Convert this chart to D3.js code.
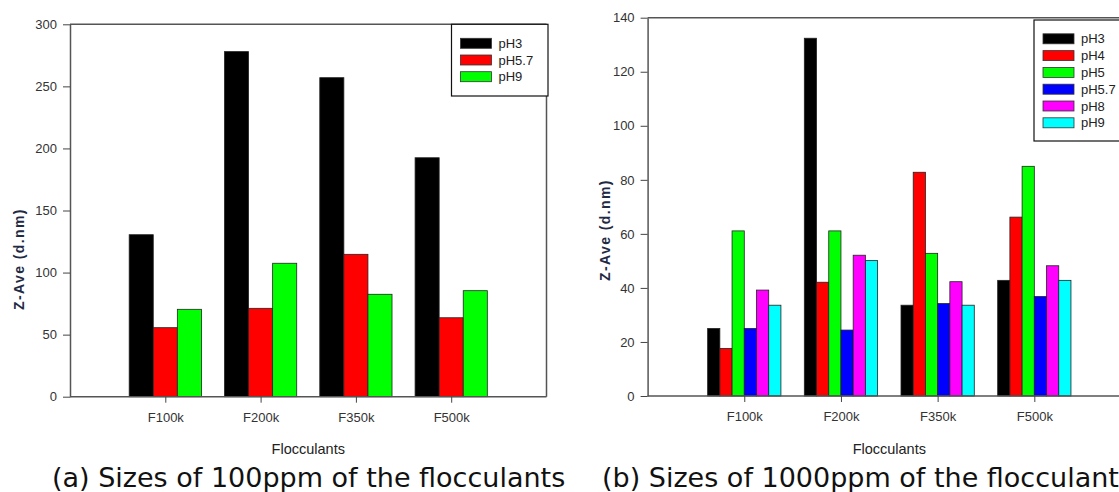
<!DOCTYPE html>
<html>
<head>
<meta charset="utf-8">
<script src="https://cdn.jsdelivr.net/npm/d3@7"></script>
<style>
  html, body { margin: 0; padding: 0; background: #fff; }
  svg { display: block; }
</style>
</head>
<body>
<svg id="fig" width="1119" height="492"></svg>
<script>
// Flocculant grades on the x axis
const categories = ["F100k", "F200k", "F350k", "F500k"];

// (a) 100 ppm: Z-average size (d.nm) per pH
const seriesA = ["pH3", "pH5.7", "pH9"];
const a_pH3  = [130.5, 278.0, 257.0, 192.5];
const a_pH57 = [55.6, 71.2, 114.7, 63.6];
const a_pH9  = [70.4, 107.5, 82.5, 85.4];

// (b) 1000 ppm: Z-average size (d.nm) per pH
const seriesB = ["pH3", "pH4", "pH5", "pH5.7", "pH8", "pH9"];
const b_pH3  = [25.0, 132.4, 33.6, 42.8];
const b_pH4  = [17.6, 42.1, 82.8, 66.2];
const b_pH5  = [61.1, 61.1, 52.8, 85.0];
const b_pH57 = [25.0, 24.4, 34.2, 36.8];
const b_pH8  = [39.2, 52.1, 42.3, 48.2];
const b_pH9  = [33.6, 50.1, 33.6, 42.8];

// Tick values
const yTicksA = [0, 50, 100, 150, 200, 250, 300];
const yTicksB = [0, 20, 40, 60, 80, 100, 120, 140];

// Series colours
const colorsA = ["#000000", "#ff0000", "#00ff00"];
const colorsB = ["#000000", "#ff0000", "#00ff00", "#0000ff", "#ff00ff", "#00ffff"];

const FONT = "Arial, 'Liberation Sans', sans-serif";
const svg = d3.select("#fig");

function panel(cfg) {
  const g = svg.append("g");
  const x = d3.scalePoint().domain(categories).range([cfg.x0, cfg.x1]).padding(1);
  const y = d3.scaleLinear().domain([0, cfg.yMax]).range([cfg.yBottom, cfg.yTop]);
  const groupW = x.step() * 0.758;
  const inner = d3.scaleBand().domain(cfg.series).range([-groupW / 2, groupW / 2]).padding(0);

  // frame (top and right edges)
  g.append("line").attr("x1", cfg.x0).attr("x2", cfg.x1).attr("y1", cfg.yTop).attr("y2", cfg.yTop)
    .attr("stroke", "#555").attr("stroke-width", 1.5);
  g.append("line").attr("x1", cfg.x1).attr("x2", cfg.x1).attr("y1", cfg.yTop).attr("y2", cfg.yBottom)
    .attr("stroke", "#555").attr("stroke-width", 1.5);

  // bars
  const rows = [];
  cfg.series.forEach((s, si) => {
    cfg.values[si].forEach((v, ci) => rows.push({ s, si, cat: categories[ci], v }));
  });
  g.append("g").selectAll("rect").data(rows).join("rect")
    .attr("x", d => x(d.cat) + inner(d.s))
    .attr("width", inner.bandwidth())
    .attr("y", d => y(d.v))
    .attr("height", d => y(0) - y(d.v))
    .attr("fill", d => cfg.colors[d.si])
    .attr("stroke", "#222")
    .attr("stroke-width", 0.8);

  // axes
  const yAxis = g.append("g").attr("transform", `translate(${cfg.x0},0)`)
    .call(d3.axisLeft(y).tickValues(cfg.yTicks).tickSize(7).tickPadding(6).tickSizeOuter(0));
  const xAxis = g.append("g").attr("transform", `translate(0,${cfg.yBottom})`)
    .call(d3.axisBottom(x).tickSize(6).tickPadding(10).tickSizeOuter(0));
  [yAxis, xAxis].forEach(ax => {
    ax.select(".domain").attr("stroke", "#555").attr("stroke-width", 1.5);
    ax.selectAll(".tick line").attr("stroke", "#444").attr("stroke-width", 1);
    ax.selectAll(".tick text").attr("font-family", FONT).attr("font-size", 13).attr("fill", "#333");
  });
  // extend x domain line across the full frame
  xAxis.select(".domain").attr("d", `M${cfg.x0},0H${cfg.x1}`);

  // axis titles
  g.append("text")
    .attr("transform", `translate(${cfg.yLabelX},${cfg.yLabelY}) rotate(-90)`)
    .attr("text-anchor", "middle")
    .attr("dominant-baseline", "central")
    .attr("font-family", FONT).attr("font-weight", "bold").attr("font-size", 14)
    .attr("letter-spacing", "1.4px")
    .attr("fill", "#1f2a44")
    .text("Z-Ave (d.nm)");
  g.append("text")
    .attr("x", (cfg.x0 + cfg.x1) / 2).attr("y", 454)
    .attr("text-anchor", "middle")
    .attr("font-family", FONT).attr("font-size", 14.5).attr("fill", "#222")
    .text("Flocculants");

  // legend
  const lg = g.append("g");
  lg.append("rect")
    .attr("x", cfg.legX).attr("y", cfg.legY).attr("width", cfg.legW).attr("height", cfg.legH)
    .attr("fill", "#fff").attr("stroke", "#111").attr("stroke-width", 1.2);
  cfg.series.forEach((s, i) => {
    const cy = cfg.legItemY + i * cfg.legStep;
    lg.append("rect")
      .attr("x", cfg.legX + 9).attr("y", cy - 5).attr("width", 31).attr("height", 10)
      .attr("fill", cfg.colors[i]).attr("stroke", "#333").attr("stroke-width", 0.8);
    lg.append("text")
      .attr("x", cfg.legX + 47).attr("y", cy).attr("dominant-baseline", "central")
      .attr("font-family", FONT).attr("font-size", 13).attr("fill", "#222")
      .text(s);
  });

  // caption
  svg.append("text")
    .attr("x", cfg.capX).attr("y", 487)
    .attr("font-family", "'DejaVu Sans', Verdana, sans-serif").attr("font-size", 27)
    .attr("fill", "#111")
    .text(cfg.caption);
}

panel({
  x0: 70, x1: 546.5, yTop: 24.3, yBottom: 396.7, yMax: 300,
  series: seriesA, values: [a_pH3, a_pH57, a_pH9], colors: colorsA, yTicks: yTicksA,
  yLabelX: 19, yLabelY: 259,
  legX: 451.5, legY: 24.3, legW: 96.5, legH: 71.7, legItemY: 43.3, legStep: 16.7,
  capX: 52, caption: "(a) Sizes of 100ppm of the flocculants"
});

panel({
  x0: 647.6, x1: 1131, yTop: 17.7, yBottom: 396, yMax: 140,
  series: seriesB, values: [b_pH3, b_pH4, b_pH5, b_pH57, b_pH8, b_pH9], colors: colorsB, yTicks: yTicksB,
  yLabelX: 605, yLabelY: 230,
  legX: 1034, legY: 20, legW: 110, legH: 121, legItemY: 38.8, legStep: 16.8,
  capX: 602, caption: "(b) Sizes of 1000ppm of the flocculants"
});
</script>
</body>
</html>
